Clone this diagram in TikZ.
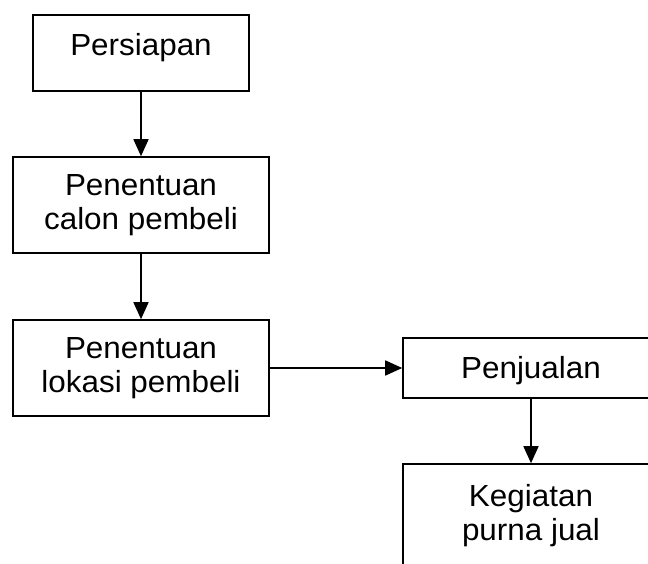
\documentclass[tikz,border=0pt]{standalone}
\usepackage{fontspec}
\setmainfont{Liberation Sans}[FakeStretch=1.03]
\usetikzlibrary{arrows.meta, positioning}

\begin{document}
\begin{tikzpicture}[
  x=1pt, y=-1pt,
  box/.style={rectangle,draw=black,line width=1.6pt,inner sep=0pt, minimum width=256pt,minimum height=96pt,align=center,font=\fontsize{30.5}{34}\selectfont},
  arr/.style={-{Triangle[length=17pt,width=15pt]},line width=1.6pt}
]
  \useasboundingbox (0,0) rectangle (648,564);
  \clip (0,0) rectangle (648,564);
  \node[box,minimum width=216pt,minimum height=76pt,text depth=17.3pt](persiapan) at (141,53) {Persiapan};
  \node[box](calon)  at (141,205) {Penentuan\\calon pembeli};
  \node[box](lokasi) at (141,368) {Penentuan\\lokasi pembeli};
  \node[box,minimum height=60pt,text height=28pt,text depth=6.3pt](jual) at (531,368) {Penjualan};
  \node[box,minimum height=103pt](purna) at (531,515.5) {Kegiatan\\purna jual};

  \draw[arr](persiapan)--(calon);
  \draw[arr](calon)--(lokasi);
  \draw[arr](lokasi)--(jual);
  \draw[arr](jual)--(purna);
\end{tikzpicture}
\end{document}
